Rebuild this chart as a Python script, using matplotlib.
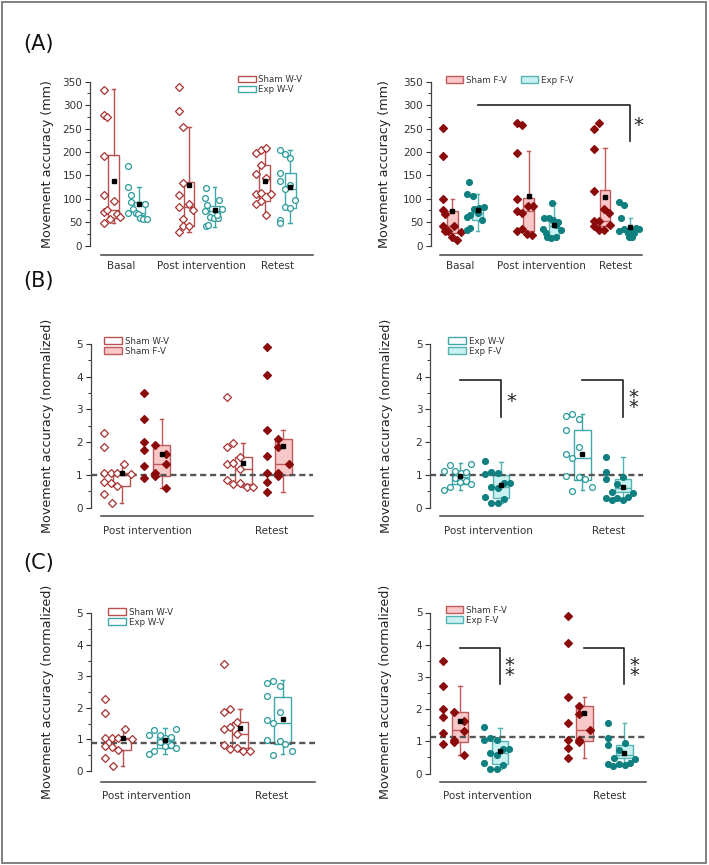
import numpy as np
import matplotlib.pyplot as plt
from matplotlib.patches import Patch, Rectangle
from matplotlib.ticker import MultipleLocator

W, H = 709, 865

TIMES_A = ['Basal', 'Post intervention', 'Retest']
TIMES_N = ['Post intervention', 'Retest']

# ---------------------------------------------------------------------------
# Panel A: raw movement accuracy (mm), one list per time point
# box stats are (whisker low, q1, median, q3, whisker high, mean)
# jitter is the horizontal scatter of each point, in pixels
# ---------------------------------------------------------------------------
sham_wv_mm = [
    [333, 279, 274, 192, 109, 72, 77, 48, 56, 95, 68, 61],
    [338, 288, 253, 134, 109, 82, 57, 28, 41, 41, 89, 75],
    [198, 205, 209, 172, 153, 145, 110, 112, 110, 89, 95, 65],
]
sham_wv_mm_jit = [
    [-10, -10, -7, -10, -10, -10, -7, -10, -3.5, 0, 3, 6.5],
    [-10.3, -10.3, -5.7, -5.7, -10.3, -10.3, -5.7, -10.3, -5.7, 0.3, -0.3, 4.3],
    [-8.7, -3.3, 1.7, -4, -8.7, 1.7, -8.7, -3.3, 6.7, -8.7, -3.3, 1.7],
]
sham_wv_mm_box = [(48, 60, 77, 193, 335, 139), (28, 41, 82, 135, 253, 129),
                  (65, 96, 112, 172, 211, 139)]

exp_wv_mm = [
    [170, 125, 107, 93, 70, 79, 70, 67, 89, 59, 57, 56],
    [124, 101, 86, 73, 62, 58, 58, 97, 79, 41, 43, 65],
    [205, 195, 188, 154, 137, 120, 129, 97, 83, 81, 55, 48],
]
exp_wv_mm_jit = [
    [-11, -11, -8.6, -8.6, -11, -6, -3.6, -1.6, 5.5, 0.7, 4, 7.4],
    [-8.3, -9.7, -7.3, -9.7, -4.7, -0.7, 3.3, 4.3, 7.7, -9, -6.7, 2.7],
    [-10.2, -4.8, 0, -10.2, -10.2, -4.8, 0, 4.8, -5.2, 0, -10.2, -10.2],
]
exp_wv_mm_box = [(56, 66, 69, 93, 125, 88), (40, 55, 73, 85, 125, 75.5),
                 (48, 81, 120, 154, 205, 124.5)]

sham_fv_mm = [
    [251, 191, 99, 75, 68, 42, 31, 31, 42, 18, 13, 29],
    [261, 257, 198, 99, 74, 69, 31, 35, 25, 23, 85, 85],
    [248, 262, 207, 117, 53, 53, 42, 33, 33, 78, 69, 44],
]
sham_fv_mm_jit = [
    [-9.8, -9.8, -9.8, -9.8, -7.5, -9.8, -7.5, -4.2, 1.8, -0.8, 4.8, 8.2],
    [-11.5, -6.2, -11.5, -11.5, -11.5, -6.2, -11.5, -6.2, -1.5, 3.8, -0.5, 4.5],
    [-11.3, -5.7, -11.3, -11.3, -11.3, -5.7, -11.3, -6.3, -0.7, -0.7, 4, 4.7],
]
sham_fv_mm_box = [(13, 27, 42, 73, 99, 73), (23, 31, 74, 101, 201, 105),
                  (33, 42, 53, 119, 208, 103)]

exp_fv_mm = [
    [135, 110, 106, 61, 65, 33, 38, 78, 69, 55, 83, 80],
    [60, 60, 35, 18, 16, 18, 50, 33, 90, 55, 44, 26],
    [94, 87, 58, 32, 36, 26, 18, 18, 26, 37, 35, 33],
]
exp_fv_mm_jit = [
    [-8.5, -10.8, -5.2, -10.8, -8.2, -10.8, -8.2, -3.5, 0, 4.2, 6.5, 0.8],
    [-10, -5, -11, -6.7, -3.3, 1.7, 4.3, 7.3, -1.7, -0.7, 1.7, -8],
    [-11, -6, -9, -11, -6, -2.7, -1.7, 1.7, 3.3, 6, 8.3, 0.7],
]
exp_fv_mm_box = [(32, 55, 69, 83, 110, 75), (15, 19, 42, 51, 90, 43.4),
                 (18, 26, 32, 37, 58, 40.5)]

# ---------------------------------------------------------------------------
# Panels B and C: accuracy normalized to basal
# ---------------------------------------------------------------------------
sham_wv_n = [
    [2.29, 1.85, 1.05, 0.79, 0.42, 1.05, 0.76, 0.15, 0.66, 1.05, 1.32, 1.03],
    [3.39, 1.86, 1.97, 1.33, 1.38, 1.56, 1.17, 0.84, 0.71, 0.74, 0.62, 0.62],
]
sham_wv_n_jit = [
    [-17.3, -17.3, -17.3, -17.3, -17.3, -10.7, -10.7, -10, -4.3, -4.3, 2.3, 9],
    [-16, -16, -10, -16, -10, -3.3, -3.3, -16, -10, -3.3, 3.3, 10],
]
sham_wv_n_box = [(0.15, 0.66, 1.0, 1.05, 1.33, 1.05), (0.62, 0.72, 1.17, 1.56, 1.97, 1.37)]

sham_fv_n = [
    [3.49, 2.71, 2.01, 1.75, 1.27, 0.92, 1.90, 1.05, 0.97, 1.63, 1.33, 0.59],
    [4.90, 4.06, 2.37, 1.58, 1.05, 0.79, 0.47, 2.09, 1.86, 1.05, 0.98, 1.35],
]
sham_fv_n_jit = [
    [-17.3, -17.3, -17.3, -17.3, -17.3, -17.3, -6.3, -6.3, -6.3, 4.3, 4.3, 4.3],
    [-16.7, -16.7, -16.7, -16.7, -16.7, -16.7, -16.7, -5.7, -5.7, -5.7, -5, 5.7],
]
sham_fv_n_box = [(0.59, 0.97, 1.35, 1.90, 2.71, 1.63), (0.47, 1.0, 1.35, 2.09, 2.37, 1.88)]

exp_wv_n = [
    [1.13, 1.30, 0.54, 0.62, 1.13, 0.92, 0.79, 1.05, 1.08, 0.82, 0.72, 1.34],
    [2.80, 2.86, 2.71, 2.37, 1.63, 1.53, 1.86, 0.97, 0.95, 0.87, 0.52, 0.62],
]
exp_wv_n_jit = [
    [-16.5, -10.8, -16.5, -10.8, -5.5, -5.5, -0.5, 0.2, 5.8, 5.8, 10.8, 10.8],
    [-16, -10, -3, -16, -16, -10, -3, -16, -3, 2.7, -10, 9.3],
]
exp_wv_n_box = [(0.54, 0.72, 0.95, 1.12, 1.36, 0.97), (0.54, 0.85, 1.53, 2.36, 2.87, 1.64)]

exp_fv_n = [
    [1.43, 1.03, 0.32, 1.10, 0.64, 0.15, 1.05, 0.15, 0.59, 0.76, 0.76, 0.26],
    [1.56, 1.10, 0.88, 0.29, 0.23, 0.72, 0.49, 0.31, 0.95, 0.25, 0.34, 0.44],
]
exp_fv_n_jit = [
    [-16.3, -16.3, -16.3, -10, -10, -10, -3.3, -3.3, -3.3, 3.3, 9.3, 3.3],
    [-16.7, -16.7, -16.7, -16.7, -11.3, -5.7, -10.7, -5.7, 0.3, 0.3, 5.3, 10.3],
]
exp_fv_n_box = [(0.13, 0.29, 0.64, 1.0, 1.41, 0.69), (0.2, 0.47, 0.59, 0.88, 1.56, 0.63)]

# reference (dashed) levels and significance brackets
ref_b, ref_c_left, ref_c_right = 1.0, 0.9, 1.12
# (x from, x to, y top, y bottom, y of the lowest star, label)
brk_a = [((0, +1), (2, +1), 300, 223, 261, '*')]
brk_b = [((0, -1), (0, +1), 3.9, 2.78, 3.31, '*'),
         ((1, -1), (1, +1), 3.9, 2.78, 3.14, '*\n*')]
brk_c = [((0, -1), (0, +1), 3.91, 2.77, 3.11, '*\n*'),
         ((1, -1), (1, +1), 3.91, 2.77, 3.11, '*\n*')]

# ---------------------------------------------------------------------------
# Styles
# ---------------------------------------------------------------------------
S_WV = dict(marker='D', ms=4.2, mfc='white', mec='#a83232', face='white', edge='#b85050')
S_FV = dict(marker='D', ms=4.2, mfc='#8b0a0a', mec='#8b0a0a', face='#f8c8c8', edge='#c05a5a')
E_WV = dict(marker='o', ms=4.2, mfc='white', mec='#2a9a9a', face='white', edge='#40a8a8')
E_FV = dict(marker='o', ms=4.2, mfc='#0f7f7f', mec='#0f7f7f', face='#c9f1f1', edge='#55b3b3')

TXT = '#333333'

fig = plt.figure(figsize=(W / 100, H / 100), dpi=100)
fig.patches.append(Rectangle((2 / W, 2 / H), 704 / W, 861 / H, transform=fig.transFigure,
                             fill=False, ec='#777777', lw=1.3))


def make_axes(spine, right, top, y0, bottom, ymax, c0, sp, line_l, line_r,
              labels, lab_dx, major, minor, lab_pad):
    ax = fig.add_axes([spine / W, 1 - bottom / H, (right - spine) / W, (bottom - top) / H])
    ppu = (y0 - top) / ymax
    ax.set_ylim(-(bottom - y0) / ppu, ymax)
    ax.set_xlim((spine - c0) / sp, (right - c0) / sp)
    ax.patch.set_alpha(0)
    for s in ('top', 'right'):
        ax.spines[s].set_visible(False)
    ax.spines['left'].set_bounds(0, ymax)
    ax.spines['left'].set_color('#444444')
    ax.spines['left'].set_linewidth(0.9)
    ax.spines['bottom'].set_bounds((line_l - c0) / sp, (line_r - c0) / sp)
    ax.spines['bottom'].set_color('#444444')
    ax.spines['bottom'].set_linewidth(1.1)
    ax.yaxis.set_major_locator(MultipleLocator(major))
    ax.yaxis.set_minor_locator(MultipleLocator(minor))
    ax.tick_params(axis='y', which='major', length=3.5, width=0.8, direction='out',
                   pad=2, labelsize=7.5, colors=TXT)
    ax.tick_params(axis='y', which='minor', length=2, width=0.7, direction='out', colors=TXT)
    ax.set_xticks([i + d / sp for i, d in enumerate(lab_dx)])
    ax.set_xticklabels(labels)
    ax.tick_params(axis='x', length=0, pad=lab_pad, labelsize=7.5, colors=TXT)
    ax.sp = sp
    return ax


def draw_group(ax, pos, vals, jit, box, st, box_w):
    lo, q1, med, q3, hi, mean = box
    stats = dict(whislo=lo, q1=q1, med=med, q3=q3, whishi=hi, fliers=[])
    ax.bxp([stats], positions=[pos], widths=box_w / ax.sp, patch_artist=True,
           showfliers=False, manage_ticks=False, capwidths=[3.5 / ax.sp],
           boxprops=dict(facecolor=st['face'], edgecolor=st['edge'], linewidth=1.0),
           medianprops=dict(color=st['edge'], linewidth=1.0),
           whiskerprops=dict(color=st['edge'], linewidth=1.0),
           capprops=dict(color=st['edge'], linewidth=1.0), zorder=2)
    x = pos + np.asarray(jit) / ax.sp
    ax.plot(x, vals, ls='none', marker=st['marker'], ms=st['ms'], mfc=st['mfc'],
            mec=st['mec'], mew=0.9, zorder=3, clip_on=False)
    ax.plot([pos], [mean], ls='none', marker='s', ms=3, color='black', zorder=4, clip_on=False)


def draw_pair(ax, left, right, off, box_w):
    for data, jit, box, st, side in (left + (-1,), right + (1,)):
        for i in range(len(data)):
            draw_group(ax, i + side * off / ax.sp, data[i], jit[i], box[i], st, box_w)


def add_legend(ax, styles, labels, left, row1, ncol=1):
    handles = [Patch(facecolor=s['face'], edgecolor=s['edge'], lw=1.0) for s in styles]
    ax.legend(handles, labels, loc='upper left', bbox_to_anchor=(left / W, 1 - (row1 - 5) / H),
              bbox_transform=fig.transFigure, frameon=False, fontsize=6.2, handlelength=2.05,
              handleheight=0.8, handletextpad=0.3, labelspacing=0.12, borderpad=0,
              borderaxespad=0, ncol=ncol, columnspacing=1.6, labelcolor=TXT)


def add_brackets(ax, brks, off, star_dx):
    for (c1, s1), (c2, s2), ytop, ybot, ystar, label in brks:
        x1 = c1 + s1 * off / ax.sp
        x2 = c2 + s2 * off / ax.sp
        ax.plot([x1, x2, x2], [ytop, ytop, ybot], color='#222222', lw=1.2, zorder=5,
                clip_on=False)
        ax.annotate(label, (x2, ystar), xytext=(star_dx, -5.5), textcoords='offset points',
                    ha='center', va='baseline', fontsize=14, color='#222222',
                    linespacing=0.37)


def ylabel(x, y, text):
    fig.text(x / W, 1 - y / H, text, rotation=90, ha='center', va='center',
             fontsize=9.2, color='#222222')


# ---- (A) left: W-V raw ----
axA1 = make_axes(90, 318, 81.7, 245.6, 254.5, 350, 126.3, 75.5, 101, 313,
                 TIMES_A, [-5, 0, 0], 50, 25, 5)
draw_pair(axA1, (sham_wv_mm, sham_wv_mm_jit, sham_wv_mm_box, S_WV),
          (exp_wv_mm, exp_wv_mm_jit, exp_wv_mm_box, E_WV), 12.8, 10.8)
add_legend(axA1, [S_WV, E_WV], ['Sham W-V', 'Exp W-V'], 238, 80)
ylabel(47.7, 163.6, 'Movement accuracy (mm)')

# ---- (A) right: F-V raw ----
axA2 = make_axes(430.5, 648, 81.7, 245.6, 254.5, 350, 465, 76.3, 440, 642,
                 TIMES_A, [-5, 0, -2], 50, 25, 5)
draw_pair(axA2, (sham_fv_mm, sham_fv_mm_jit, sham_fv_mm_box, S_FV),
          (exp_fv_mm, exp_fv_mm_jit, exp_fv_mm_box, E_FV), 12.7, 10.8)
add_legend(axA2, [S_FV, E_FV], ['Sham F-V', 'Exp F-V'], 445.7, 80.7, ncol=2)
add_brackets(axA2, brk_a, 12.7, 6)
ylabel(384, 163.6, 'Movement accuracy (mm)')

# ---- (B) left: sham W-V vs F-V normalized ----
axB1 = make_axes(90.5, 318, 344, 507.7, 516, 5, 141.7, 121.5, 101, 313,
                 TIMES_N, [6, 8], 1, 0.5, 7.5)
axB1.hlines(ref_b, axB1.get_xlim()[0], (313 - 141.7) / 121.5, colors='#555555', lw=1.7,
            linestyles=(0, (2.6, 1.6)), zorder=2.5)
draw_pair(axB1, (sham_wv_n, sham_wv_n_jit, sham_wv_n_box, S_WV),
          (sham_fv_n, sham_fv_n_jit, sham_fv_n_box, S_FV), 20, 16.7)
add_legend(axB1, [S_WV, S_FV], ['Sham W-V', 'Sham F-V'], 104.3, 341.7)
ylabel(47.7, 426, 'Movement accuracy (normalized)')

# ---- (B) right: exp W-V vs F-V normalized ----
axB2 = make_axes(430, 648, 344, 507.7, 516, 5, 480.8, 121.8, 440, 643,
                 TIMES_N, [8, 6], 1, 0.5, 7.5)
axB2.hlines(ref_b, axB2.get_xlim()[0], (643 - 480.8) / 121.8, colors='#555555', lw=1.7,
            linestyles=(0, (2.6, 1.6)), zorder=2.5)
draw_pair(axB2, (exp_wv_n, exp_wv_n_jit, exp_wv_n_box, E_WV),
          (exp_fv_n, exp_fv_n_jit, exp_fv_n_box, E_FV), 20.3, 16.7)
add_legend(axB2, [E_WV, E_FV], ['Exp W-V', 'Exp F-V'], 448.3, 341.7)
add_brackets(axB2, brk_b, 20.3, 7.5)
ylabel(386, 426, 'Movement accuracy (normalized)')

# ---- (C) left: W-V sham vs exp normalized ----
axC1 = make_axes(90.7, 318, 613.3, 771, 782.3, 5, 143.9, 117.4, 101, 315,
                 TIMES_N, [3, 10], 1, 0.5, 6.5)
axC1.hlines(ref_c_left, axC1.get_xlim()[0], (315 - 143.9) / 117.4, colors='#555555', lw=1.7,
            linestyles=(0, (2.6, 1.6)), zorder=2.5)
draw_pair(axC1, (sham_wv_n, sham_wv_n_jit, sham_wv_n_box, S_WV),
          (exp_wv_n, exp_wv_n_jit, exp_wv_n_box, E_WV), 21.3, 16.7)
add_legend(axC1, [S_WV, E_WV], ['Sham W-V', 'Exp W-V'], 108.3, 612.7)
ylabel(47.7, 692, 'Movement accuracy (normalized)')

# ---- (C) right: F-V sham vs exp normalized ----
axC2 = make_axes(430, 650, 612.5, 773.5, 782, 5, 480, 124.3, 440, 645.7,
                 TIMES_N, [7, 5], 1, 0.5, 6.5)
axC2.hlines(ref_c_right, axC2.get_xlim()[0], (645.7 - 480) / 124.3, colors='#555555',
            lw=1.7, linestyles=(0, (2.6, 1.6)), zorder=2.5)
draw_pair(axC2, (sham_fv_n, sham_fv_n_jit, sham_fv_n_box, S_FV),
          (exp_fv_n, exp_fv_n_jit, exp_fv_n_box, E_FV), 20, 16.7)
add_legend(axC2, [S_FV, E_FV], ['Sham F-V', 'Exp F-V'], 445.7, 610.7)
add_brackets(axC2, brk_c, 20, 7)
ylabel(385.7, 692, 'Movement accuracy (normalized)')

# panel letters
for lab, y in (('(A)', 44), ('(B)', 281), ('(C)', 563)):
    fig.text(38.5 / W, 1 - y / H, lab, ha='center', va='center', fontsize=15, color='#111111')

fig.savefig('out.png', dpi=100)
